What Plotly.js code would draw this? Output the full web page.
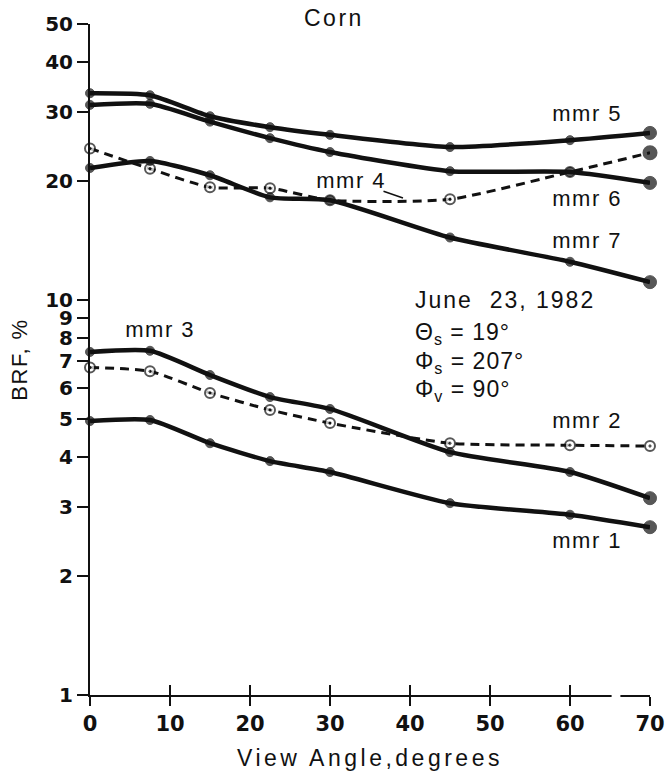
<!DOCTYPE html>
<html>
<head>
<meta charset="utf-8">
<script src="https://cdn.plot.ly/plotly-3.0.1.min.js"></script>
<style>
  html, body { margin: 0; padding: 0; background: #fff; }
  #chart { width: 665px; height: 778px; }
</style>
</head>
<body>
<div id="chart"></div>
<script>
// View angles (degrees) at which the bidirectional reflectance factor was measured
const angles = [0, 7.5, 15, 22.5, 30, 45, 60, 70];

// BRF (%) for each MMR band over corn
const mmr1 = [4.94, 4.97, 4.34, 3.91, 3.67, 3.06, 2.86, 2.66];
const mmr2 = [6.75, 6.6, 5.82, 5.27, 4.88, 4.34, 4.29, 4.27];
const mmr3 = [7.39, 7.44, 6.46, 5.68, 5.30, 4.12, 3.67, 3.15];
const mmr4 = [24.2, 21.5, 19.3, 19.2, 17.9, 18.0, 21.1, 23.6];
const mmr5 = [33.4, 33.0, 29.2, 27.4, 26.2, 24.4, 25.4, 26.5];
const mmr6 = [31.2, 31.4, 28.3, 25.7, 23.7, 21.2, 21.1, 19.8];
const mmr7 = [21.6, 22.5, 20.7, 18.2, 17.9, 14.4, 12.5, 11.1];

const yTicks = [1, 2, 3, 4, 5, 6, 7, 8, 9, 10, 20, 30, 40, 50];
const xTicks = [0, 10, 20, 30, 40, 50, 60, 70];

const FONT = 'Liberation Sans, Arial, Helvetica, sans-serif';
const TICKFONT = 'DejaVu Sans, Liberation Sans, sans-serif';
const INK = '#111';

// solid curve: filled dots, heavier dot at the last angle
function solid(name, ys) {
  const n = ys.length;
  return {
    x: angles, y: ys, name: name, type: 'scatter', mode: 'lines+markers',
    line: { color: INK, width: 4.5, shape: 'spline', smoothing: 0.6 },
    marker: {
      symbol: 'circle',
      size: ys.map((v, i) => i === n - 1 ? 13 : 9),
      color: INK,
      line: { color: INK, width: 1 }
    },
    cliponaxis: false, showlegend: false, hoverinfo: 'x+y+name'
  };
}

// dashed curve: open circles
function dashed(name, ys, filledEnd) {
  const n = ys.length;
  const isEnd = i => filledEnd && i === n - 1;
  return {
    x: angles, y: ys, name: name, type: 'scatter', mode: 'lines+markers',
    line: { color: INK, width: 3, dash: '9px,6px', shape: 'spline', smoothing: 0.6 },
    marker: {
      symbol: ys.map((v, i) => isEnd(i) ? 'circle' : 'circle-dot'),
      size: ys.map((v, i) => isEnd(i) ? 13 : 10),
      color: ys.map((v, i) => isEnd(i) ? INK : '#fff'),
      line: { color: INK, width: 2 }
    },
    cliponaxis: false, showlegend: false, hoverinfo: 'x+y+name'
  };
}

const data = [
  dashed('mmr 2', mmr2, false),
  dashed('mmr 4', mmr4, true),
  solid('mmr 1', mmr1),
  solid('mmr 3', mmr3),
  solid('mmr 5', mmr5),
  solid('mmr 6', mmr6),
  solid('mmr 7', mmr7),
  // companion axis that gives the bottom ticks their upper half
  { x: [0, 70], y: [1, 1], xaxis: 'x2', type: 'scatter', mode: 'lines',
    line: { width: 0 }, showlegend: false, hoverinfo: 'skip' }
];

// plot area in page pixels
const L = 90, R = 650, T = 24, B = 695;
const px = x => (x - L) / (R - L);
const py = y => (B - y) / (B - T);

// letter spacing (px) applied to each annotation after drawing
const spacing = [];

function label(text, x, y, size, track, anchor) {
  spacing.push(track);
  return {
    text: text, xref: 'paper', yref: 'paper', x: px(x), y: py(y),
    xanchor: anchor || 'center', yanchor: 'middle', align: anchor || 'center',
    showarrow: false,
    font: { family: FONT, size: size, color: INK }
  };
}

const annotations = [
  label('Corn', 334, 18, 23, 2.5),
  label('mmr 5', 587, 113, 22, 1.5),
  label('mmr 6', 587, 198, 22, 1.5),
  label('mmr 7', 587, 240, 22, 1.5),
  label('mmr 3', 160, 329, 22, 1.5),
  label('mmr 2', 587, 420, 22, 1.5),
  label('mmr 1', 587, 540, 22, 1.5),
  label('June  23, 1982', 413, 300, 23, 2, 'left'),
  label('\u0398<sub>s</sub> = 19\u00b0', 413, 333, 23, 1, 'left'),
  label('\u03a6<sub>s</sub> = 207\u00b0', 413, 362, 23, 1, 'left'),
  label('\u03a6<sub>v</sub> = 90\u00b0', 413, 390, 23, 1, 'left')
];
spacing.push(1.5);
annotations.push({
  text: 'mmr 4', xref: 'paper', yref: 'paper', x: px(403), y: py(198),
  axref: 'pixel', ayref: 'pixel', ax: -52, ay: -18,
  showarrow: true, arrowhead: 0, arrowwidth: 1.5, arrowcolor: INK,
  font: { family: FONT, size: 22, color: INK }
});

const layout = {
  width: 665, height: 778,
  margin: { l: L, r: 665 - R, t: T, b: 778 - B },
  paper_bgcolor: '#fff', plot_bgcolor: '#fff',
  font: { family: FONT, color: INK },
  xaxis: {
    range: [0, 70], tickvals: xTicks, ticktext: xTicks.map(String),
    showgrid: false, zeroline: false, showline: true, linecolor: INK, linewidth: 2,
    ticks: 'outside', ticklen: 9, tickwidth: 2, tickcolor: INK,
    tickfont: { family: TICKFONT, size: 21, weight: 'bold', color: INK },
    title: { text: 'View Angle,degrees', standoff: 15,
             font: { family: FONT, size: 23, color: INK } }
  },
  xaxis2: {
    overlaying: 'x', anchor: 'y', side: 'bottom', range: [0, 70], tickvals: xTicks,
    showticklabels: false, showgrid: false, zeroline: false, showline: false,
    ticks: 'inside', ticklen: 10, tickwidth: 2, tickcolor: INK
  },
  yaxis: {
    type: 'log', range: [0, Math.log10(50)],
    tickvals: yTicks, ticktext: yTicks.map(String),
    showgrid: false, zeroline: false, showline: true, linecolor: INK, linewidth: 2,
    ticks: 'outside', ticklen: 11, tickwidth: 2, tickcolor: INK,
    tickfont: { family: TICKFONT, size: 20, weight: 'bold', color: INK },
    title: { text: 'BRF, %', standoff: 11,
             font: { family: FONT, size: 22, color: INK } }
  },
  shapes: [
    // small break in the angle axis just before 70
    { type: 'rect', xref: 'x', yref: 'paper', x0: 65.2, x1: 66.3, y0: -0.006, y1: 0.006,
      fillcolor: '#fff', line: { width: 0 }, layer: 'above' }
  ],
  annotations: annotations
};

Plotly.newPlot('chart', data, layout, { displayModeBar: false, staticPlot: true }).then(gd => {
  // open up the lettering the way the typeset labels are spaced
  gd.querySelectorAll('g.annotation').forEach(g => {
    const i = +g.getAttribute('data-index');
    const t = g.querySelector('text.annotation-text');
    if (t && spacing[i] != null) t.style.letterSpacing = spacing[i] + 'px';
  });
  const xt = gd.querySelector('.xtitle');
  if (xt) xt.style.letterSpacing = '3.5px';
  const yt = gd.querySelector('.ytitle');
  if (yt) yt.style.letterSpacing = '1.5px';
});
</script>
</body>
</html>
